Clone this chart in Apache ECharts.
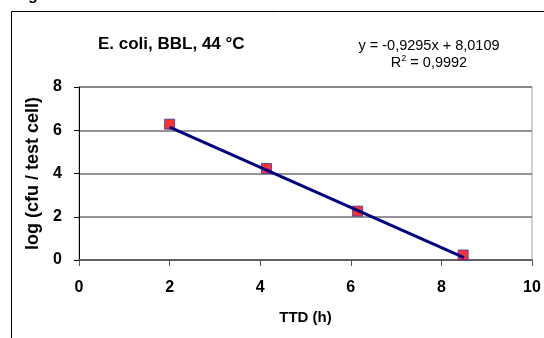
<!DOCTYPE html>
<html>
<head>
<meta charset="utf-8">
<script src="https://cdn.jsdelivr.net/npm/echarts@6/dist/echarts.min.js"></script>
<style>
  html, body { margin: 0; padding: 0; background: #fff; }
  #chart { width: 544px; height: 338px; }
</style>
</head>
<body>
<div id="chart"></div>
<script>
// measured points: TTD (h) vs log (cfu / test cell)
const ttd = [2.0, 4.14, 6.15, 8.48]
const logCfu = [6.28, 4.23, 2.26, 0.23]
// trendline ends
const trendX = [2.0, 8.5]
const trendY = [6.15, 0.11]
const xTicks = [0, 2, 4, 6, 8, 10]
const yTicks = [0, 2, 4, 6, 8]

const font = 'Liberation Sans, Arial, sans-serif'
const chart = echarts.init(document.getElementById('chart'))

const points = ttd.map((x, i) => [x, logCfu[i]])
const trend = trendX.map((x, i) => [x, trendY[i]])

const option = {
  animation: false,
  backgroundColor: '#fff',
  grid: {
    left: 79,
    right: 12,
    top: 87,
    bottom: 78,
    show: true,
    borderColor: '#a0a0a0',
    borderWidth: 1
  },
  graphic: [
    {
      type: 'polyline',
      shape: { points: [[11.5, 340], [11.5, 11.5], [546, 11.5]] },
      style: { stroke: '#000', lineWidth: 1, fill: null }
    },
    {
      type: 'text',
      left: 28,
      top: -12,
      style: { text: 'g', font: 'bold 16px ' + font, fill: '#000' }
    },
    {
      type: 'text',
      left: 98,
      top: 36,
      style: { text: 'E. coli, BBL, 44 °C', font: 'bold 17px ' + font, fill: '#000' }
    },
    {
      type: 'text',
      x: 429,
      y: 38,
      style: { text: 'y = -0,9295x + 8,0109', font: '14.5px ' + font, fill: '#000', align: 'center' }
    },
    {
      type: 'text',
      x: 429,
      y: 54,
      style: {
        align: 'center',
        rich: {
          n: { font: '14.5px ' + font, fill: '#000' },
          s: { font: '9px ' + font, fill: '#000', verticalAlign: 'top', padding: [0, 0, 8, 0] }
        },
        text: '{n|R}{s|2}{n| = 0,9992}'
      }
    }
  ],
  xAxis: {
    type: 'value',
    min: 0,
    max: 10,
    interval: 2,
    name: 'TTD (h)',
    nameLocation: 'middle',
    nameGap: 50,
    nameTextStyle: { fontFamily: font, fontWeight: 'bold', fontSize: 15, color: '#000' },
    axisLine: { lineStyle: { color: '#555', width: 1.5 } },
    axisTick: { show: true, length: 6, lineStyle: { color: '#555' } },
    axisLabel: {
      fontFamily: font, fontWeight: 'bold', fontSize: 16, color: '#000', margin: 20,
      formatter: v => xTicks.includes(v) ? String(v) : ''
    },
    splitLine: { show: false }
  },
  yAxis: {
    type: 'value',
    min: 0,
    max: 8,
    interval: 2,
    name: 'log (cfu / test cell)',
    nameLocation: 'middle',
    nameGap: 34,
    nameRotate: 90,
    nameTextStyle: { fontFamily: font, fontWeight: 'bold', fontSize: 18, color: '#000' },
    axisLine: { show: true, lineStyle: { color: '#000', width: 1 } },
    axisTick: { show: true, length: 5, lineStyle: { color: '#000' } },
    axisLabel: {
      fontFamily: font, fontWeight: 'bold', fontSize: 16, color: '#000', margin: 17,
      formatter: v => yTicks.includes(v) ? String(v) : ''
    },
    splitLine: { show: true, lineStyle: { color: '#707070', width: 1.5 } }
  },
  series: [
    {
      name: 'points',
      type: 'scatter',
      data: points,
      symbol: 'rect',
      symbolSize: 10,
      itemStyle: { color: '#ff0000', borderColor: '#3333aa', borderWidth: 1 },
      z: 3
    },
    {
      name: 'trend',
      type: 'line',
      data: trend,
      symbol: 'none',
      lineStyle: { color: '#000080', width: 3 },
      z: 4
    }
  ]
}
chart.setOption(option)
</script>
</body>
</html>
